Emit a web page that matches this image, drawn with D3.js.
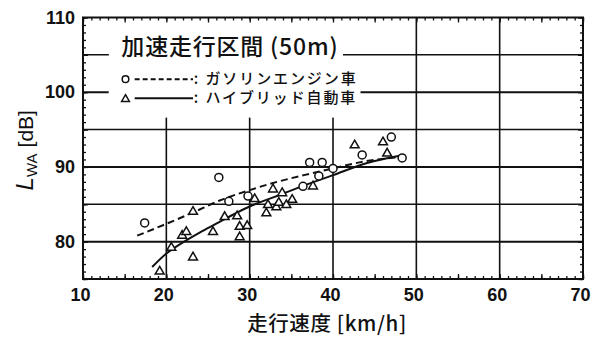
<!DOCTYPE html>
<html>
<head>
<meta charset="utf-8">
<script src="https://cdn.jsdelivr.net/npm/d3@7"></script>
<style>
  html, body { margin: 0; padding: 0; background: #fff; }
  svg { display: block; }
  .num { font-family: "Liberation Sans", Arial, sans-serif; font-size: 18px; font-weight: bold; fill: #111; }
  .jp { font-family: "Noto Sans CJK JP", "Noto Sans", sans-serif; font-weight: 500; fill: #111; }
</style>
</head>
<body>
<svg id="chart" width="595" height="338"></svg>
<script>
// Speed axis (km/h) and level axis (dB)
const xDomain = [10, 70];
const yDomain = [75, 110];
const xTickLabels = [10, 20, 30, 40, 50, 60, 70];
const yTickLabels = [80, 90, 100, 110];
const xGrid = [20, 30, 40, 50, 60];
const yGrid = [80, 85, 90, 95, 100, 105];

// Gasoline cars: measured points [speed, L_WA]
const gasSpeed = [17.4, 26.3, 27.5, 29.8, 36.4, 37.2, 38.3, 38.7, 40.0, 43.5, 47.0, 48.3];
const gasLevel = [82.5, 88.6, 85.4, 86.1, 87.4, 90.6, 88.8, 90.6, 89.8, 91.6, 94.0, 91.2];

// Hybrid cars: measured points [speed, L_WA]
const hybSpeed = [19.2, 20.6, 21.9, 22.4, 23.2, 23.2, 25.6, 27.0, 28.5, 28.8, 29.7, 28.8,
                  30.6, 32.0, 32.2, 32.8, 33.2, 33.5, 33.9, 34.4, 35.1, 37.6, 42.6, 46.0, 46.5];
const hybLevel = [76.0, 79.2, 80.8, 81.3, 84.0, 77.9, 81.3, 83.3, 83.4, 82.0, 82.1, 80.6,
                  85.7, 83.8, 84.9, 87.0, 84.6, 85.2, 86.5, 84.9, 85.6, 87.4, 92.9, 93.3, 91.8];

// Regression curves
const gasFitSpeed = [16.5, 19.6, 23.2, 26.4, 30.0, 33.3, 36.5, 40.0, 43.6, 48.0];
const gasFitLevel = [80.8, 82.2, 83.9, 85.5, 86.9, 88.0, 88.9, 89.8, 90.7, 91.3];
const hybFitSpeed = [18.3, 20.0, 22.0, 24.0, 26.0, 28.0, 30.0, 33.0, 36.0, 40.0, 44.0, 48.0];
const hybFitLevel = [76.6, 78.4, 79.9, 81.2, 82.4, 83.6, 84.7, 86.0, 87.3, 88.9, 90.5, 91.5];

// Legend entries
const legendTitle = "加速走行区間 (50m)";
const legendNames = [": ガソリンエンジン車", ": ハイブリッド自動車"];

const svg = d3.select("#chart");
const x = d3.scaleLinear().domain(xDomain).range([83, 583]);
const y = d3.scaleLinear().domain(yDomain).range([279, 17.5]);
const [L, R] = x.range();
const [B, T] = y.range();

// Grid lines
svg.append("g").selectAll("line").data(yGrid).join("line")
  .attr("x1", L).attr("x2", R)
  .attr("y1", d => y(d)).attr("y2", d => y(d))
  .attr("stroke", "#111").attr("stroke-width", d => d % 10 === 0 ? 2 : 1.5);
svg.append("g").selectAll("line").data(xGrid).join("line")
  .attr("x1", d => x(d)).attr("x2", d => x(d))
  .attr("y1", T).attr("y2", B)
  .attr("stroke", "#111").attr("stroke-width", 1.6);

// Blank legend panel over the grid
const legendG = svg.append("g");
legendG.append("rect").attr("x", x(13.1)).attr("y", T + 1.5)
  .attr("width", x(41.2) - x(13.1)).attr("height", y(98.8) - T - 1.5).attr("fill", "#fff");
legendG.append("rect").attr("x", x(13.1)).attr("y", y(101))
  .attr("width", x(43.3) - x(13.1)).attr("height", y(96.6) - y(101)).attr("fill", "#fff");

// Minor / mid ticks pointing inward on all four sides
function tickSet(axisFn, scale, step, size, domain) {
  return axisFn(scale).tickValues(d3.range(domain[0], domain[1] + 0.001, step))
    .tickSize(size).tickFormat("");
}
const tickStyle = g => {
  g.select(".domain").remove();
  g.selectAll(".tick line").attr("stroke", "#111").attr("stroke-width", 1.3);
};
svg.append("g").attr("transform", `translate(0,${B})`)
  .call(tickSet(d3.axisBottom, x, 1, -3, xDomain)).call(tickStyle);
svg.append("g").attr("transform", `translate(0,${B})`)
  .call(tickSet(d3.axisBottom, x, 5, -5, xDomain)).call(tickStyle);
svg.append("g").attr("transform", `translate(0,${T})`)
  .call(tickSet(d3.axisTop, x, 1, -3, xDomain)).call(tickStyle);
svg.append("g").attr("transform", `translate(0,${T})`)
  .call(tickSet(d3.axisTop, x, 5, -5, xDomain)).call(tickStyle);
svg.append("g").attr("transform", `translate(${L},0)`)
  .call(tickSet(d3.axisLeft, y, 1, -3, yDomain)).call(tickStyle);
svg.append("g").attr("transform", `translate(${L},0)`)
  .call(tickSet(d3.axisLeft, y, 5, -5, yDomain)).call(tickStyle);
svg.append("g").attr("transform", `translate(${R},0)`)
  .call(tickSet(d3.axisRight, y, 1, -3, yDomain)).call(tickStyle);
svg.append("g").attr("transform", `translate(${R},0)`)
  .call(tickSet(d3.axisRight, y, 5, -5, yDomain)).call(tickStyle);

// Frame
svg.append("rect").attr("x", L).attr("y", T).attr("width", R - L).attr("height", B - T)
  .attr("fill", "none").attr("stroke", "#111").attr("stroke-width", 2);

// Tick labels
const xLab = svg.append("g").attr("transform", `translate(-3,${B})`)
  .call(d3.axisBottom(x).tickValues(xTickLabels).tickSize(0).tickPadding(9));
xLab.select(".domain").remove();
xLab.selectAll("text").attr("class", "num").attr("font-size", null).attr("font-family", null);

const yLab = svg.append("g").attr("transform", `translate(${L},0)`)
  .call(d3.axisLeft(y).tickValues(yTickLabels).tickSize(0).tickPadding(8));
yLab.select(".domain").remove();
yLab.selectAll("text").attr("class", "num").attr("font-size", null).attr("font-family", null);

// Axis titles
svg.append("text").attr("class", "jp")
  .attr("x", (L + R) / 2 - 6).attr("y", 331)
  .attr("text-anchor", "middle").attr("font-size", 20.5)
  .attr("letter-spacing", 0.6)
  .text("走行速度 [km/h]");

const yTitle = svg.append("text")
  .attr("transform", `translate(33,${(T + B) / 2 + 2}) rotate(-90)`)
  .attr("text-anchor", "middle")
  .attr("font-family", "Liberation Sans, Arial, sans-serif")
  .attr("font-size", 21).attr("fill", "#111");
yTitle.append("tspan").attr("font-style", "italic").attr("font-size", 24).text("L");
yTitle.append("tspan").attr("font-size", 15).attr("dy", 4).text("WA");
yTitle.append("tspan").attr("dy", -4).attr("dx", 6).text("[dB]");

// Regression curves
const line = d3.line().curve(d3.curveMonotoneX).x(d => x(d[0])).y(d => y(d[1]));
svg.append("path").datum(d3.zip(gasFitSpeed, gasFitLevel))
  .attr("d", line).attr("fill", "none").attr("stroke", "#111")
  .attr("stroke-width", 2).attr("stroke-dasharray", "7,4");
svg.append("path").datum(d3.zip(hybFitSpeed, hybFitLevel))
  .attr("d", line).attr("fill", "none").attr("stroke", "#111")
  .attr("stroke-width", 2);

// Markers
const tri = d3.symbol().type(d3.symbolTriangle).size(34);
svg.append("g").selectAll("path").data(d3.zip(hybSpeed, hybLevel)).join("path")
  .attr("d", tri)
  .attr("transform", d => `translate(${x(d[0])},${y(d[1])})`)
  .attr("fill", "#fff").attr("stroke", "#111").attr("stroke-width", 1.5);
svg.append("g").selectAll("circle").data(d3.zip(gasSpeed, gasLevel)).join("circle")
  .attr("cx", d => x(d[0])).attr("cy", d => y(d[1])).attr("r", 4)
  .attr("fill", "#fff").attr("stroke", "#111").attr("stroke-width", 1.5);

// Legend
legendG.append("text").attr("class", "jp")
  .attr("x", x(14.6)).attr("y", y(105)).attr("font-size", 23)
  .attr("letter-spacing", 0.8)
  .text(legendTitle);
const rows = [y(101.75), y(99.2)];
legendG.append("circle").attr("cx", x(15.1)).attr("cy", rows[0]).attr("r", 3.3)
  .attr("fill", "#fff").attr("stroke", "#111").attr("stroke-width", 1.5);
legendG.append("line").attr("x1", x(16.2)).attr("x2", x(23.2))
  .attr("y1", rows[0]).attr("y2", rows[0])
  .attr("stroke", "#111").attr("stroke-width", 2).attr("stroke-dasharray", "5,3");
legendG.append("path").attr("d", d3.symbol().type(d3.symbolTriangle).size(26))
  .attr("transform", `translate(${x(15.1)},${rows[1] + 1})`)
  .attr("fill", "#fff").attr("stroke", "#111").attr("stroke-width", 1.5);
legendG.append("line").attr("x1", x(16.2)).attr("x2", x(23.2))
  .attr("y1", rows[1]).attr("y2", rows[1])
  .attr("stroke", "#111").attr("stroke-width", 2);
// Both entry names as one two-line text block
legendG.append("text").attr("class", "jp")
  .attr("font-size", 15).attr("letter-spacing", 1.9)
  .selectAll("tspan").data(legendNames).join("tspan")
  .attr("x", x(23.3)).attr("y", (d, i) => rows[i] + 5.2)
  .text(d => d);
</script>
</body>
</html>
